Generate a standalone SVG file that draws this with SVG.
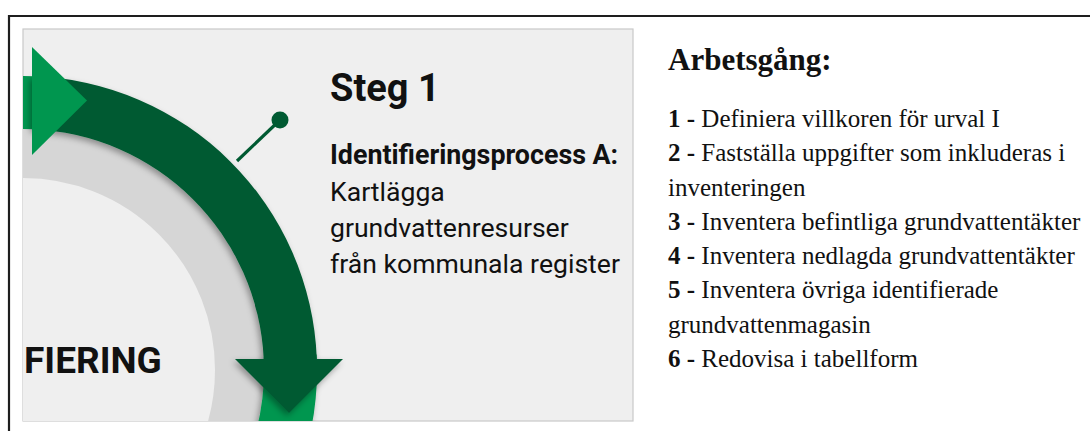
<svg xmlns="http://www.w3.org/2000/svg" width="1090" height="431" viewBox="0 0 1090 431">
  <style>
    .frame { fill: none; stroke: #1e1e1e; stroke-width: 2.2; }
    .panel { fill: #efefef; stroke: #c9c9c9; stroke-width: 1.2; }
    .dark { fill: #005a32; }
    .light { fill: #00964f; }
    .sans { font-family: Roboto, "Liberation Sans", sans-serif; fill: #111; }
    .serif { font-family: "Liberation Serif", "Times New Roman", serif; fill: #111; }
    .b { font-weight: bold; }
  </style>
  <defs>
    <clipPath id="panelClip">
      <rect x="23" y="29" width="610" height="392"/>
    </clipPath>
    <filter id="soft" x="-20%" y="-20%" width="140%" height="140%">
      <feDropShadow dx="-2" dy="3" stdDeviation="3" flood-color="#000" flood-opacity="0.35"/>
    </filter>
  </defs>

  <!-- outer frame -->
  <path class="frame" d="M9,431 V16 H1090"/>

  <!-- step card -->
  <g id="step-card">
    <rect class="panel" x="23" y="29" width="610" height="392"/>
    <g clip-path="url(#panelClip)">
      <!-- grey ring around the centre -->
      <circle cx="23" cy="370" r="216.5" fill="#efefef" stroke="#d6d6d6" stroke-width="49"/>
      <!-- tail of the previous segment -->
      <path class="light" d="M10,76.3 A294,294 0 0 1 34,76.2 L34,129.3 A241,241 0 0 0 10,129.4 Z"/>
      <!-- next segment, emerging below the arrowhead -->
      <path class="light" filter="url(#soft)" d="M316.6,354.6 A294,294 0 0 1 299.3,470.6 L249.5,452.4 A241,241 0 0 0 263.7,357.4 Z"/>
      <!-- current segment with its arrowhead -->
      <g id="segment-1" filter="url(#soft)">
        <path class="dark" d="M32,76.1 A294,294 0 0 1 316.8,359 L263.7,359 A241,241 0 0 0 32,129.2 Z"/>
        <polygon class="dark" points="235,359 343,359 289,413"/>
      </g>
      <!-- arrowhead of the previous segment -->
      <polygon class="light" points="32,47 32,155 87,100.5"/>
      <text class="sans b" x="24" y="373" font-size="37">FIERING</text>
    </g>
  </g>

  <!-- leader from the arc to the step label -->
  <g id="connectors">
    <line x1="237" y1="161" x2="280" y2="120" stroke="#005a32" stroke-width="3.2"/>
    <circle cx="280" cy="120" r="8.5" fill="#005a32"/>
  </g>

  <!-- step label -->
  <g id="step-label">
    <text class="sans b" x="330" y="101" font-size="38">Steg 1</text>
    <text class="sans b" x="330" y="164" font-size="26.8">Identifieringsprocess A:</text>
    <text class="sans" font-size="26.6">
      <tspan x="330" y="201">Kartlägga</tspan>
      <tspan x="330" y="237">grundvattenresurser</tspan>
      <tspan x="330" y="273">från kommunala register</tspan>
    </text>
  </g>

  <!-- work procedure list -->
  <g id="procedure">
    <text class="serif b" x="668" y="70" font-size="31">Arbetsgång:</text>
    <text class="serif" font-size="25">
      <tspan x="668" y="127"><tspan class="b">1 -</tspan> Definiera villkoren för urval I</tspan>
      <tspan x="668" y="161.3"><tspan class="b">2 -</tspan> Fastställa uppgifter som inkluderas i</tspan>
      <tspan x="668" y="195.5">inventeringen</tspan>
      <tspan x="668" y="229.8"><tspan class="b">3 -</tspan> Inventera befintliga grundvattentäkter</tspan>
      <tspan x="668" y="264"><tspan class="b">4 -</tspan> Inventera nedlagda grundvattentäkter</tspan>
      <tspan x="668" y="298.3"><tspan class="b">5 -</tspan> Inventera övriga identifierade</tspan>
      <tspan x="668" y="332.5">grundvattenmagasin</tspan>
      <tspan x="668" y="366.7"><tspan class="b">6 -</tspan> Redovisa i tabellform</tspan>
    </text>
  </g>
</svg>
